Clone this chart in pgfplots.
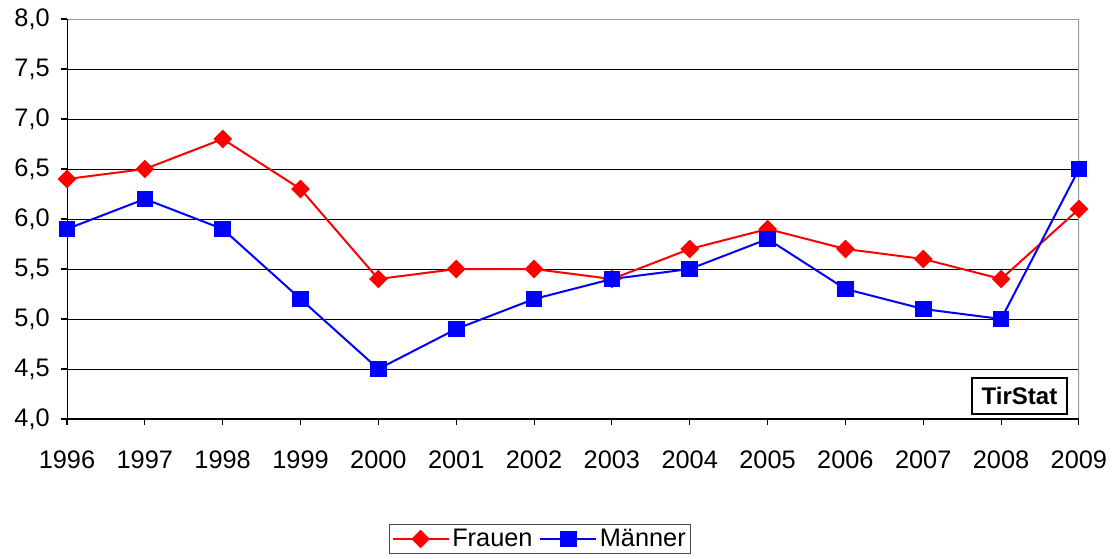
\documentclass[border=0pt]{standalone}
\usepackage{fontspec}
\setmainfont{Liberation Sans}
\usepackage{pgfplots}
\pgfplotsset{compat=1.18}
\begin{document}
\begin{tikzpicture}
\useasboundingbox (0,0) rectangle (836.25pt,418.5pt);
\begin{axis}[
  at={(50.25pt,104.25pt)}, anchor=south west,
  scale only axis, width=759pt, height=300pt,
  xmin=1996, xmax=2009, ymin=4, ymax=8,
  xtick={1996,...,2009},
  ytick={4,4.5,...,8},
  ymajorgrids, grid style={black, line width=0.6pt},
  axis line style={draw=none},
  tick align=outside, major tick length=4.5pt,
  tick style={black, line width=0.8pt},
  xtick pos=bottom, ytick pos=left,
  /pgf/number format/assume math mode=true,
  xticklabel style={/pgf/number format/1000 sep={}, font=\fontsize{19}{23}\selectfont, yshift=-16pt},
  yticklabel style={/pgf/number format/.cd, use comma, fixed, fixed zerofill, precision=1, /tikz/.cd, font=\fontsize{19}{23}\selectfont, xshift=-5pt},
  legend style={at={(0.4674,-0.30)}, anchor=center, draw=black!70, line width=0.8pt, font=\fontsize{19}{23}\selectfont, legend columns=2, inner sep=1.5pt, /tikz/every even column/.append style={column sep=3pt}},
  legend cell align=left,
  legend image code/.code={\draw[#1] (0pt,0pt) -- (42pt,0pt); \draw[#1, only marks] plot coordinates {(21pt,0pt)};},
]
\draw[gray!80, line width=1.2pt] (rel axis cs:0,1) -- (rel axis cs:1,1) -- (rel axis cs:1,0);
\draw[black, line width=1.2pt] (rel axis cs:0,1) -- (rel axis cs:0,0) -- (rel axis cs:1,0);
\addplot[red, line width=1.5pt, mark=square*, mark options={rotate=45, solid}, mark size=4.2pt] coordinates {
(1996,6.4) (1997,6.5) (1998,6.8) (1999,6.3) (2000,5.4) (2001,5.5) (2002,5.5)
(2003,5.4) (2004,5.7) (2005,5.9) (2006,5.7) (2007,5.6) (2008,5.4) (2009,6.1)};
\addlegendentry{Frauen}
\addplot[blue, line width=1.5pt, mark=square*, mark size=5.5pt] coordinates {
(1996,5.9) (1997,6.2) (1998,5.9) (1999,5.2) (2000,4.5) (2001,4.9) (2002,5.2)
(2003,5.4) (2004,5.5) (2005,5.8) (2006,5.3) (2007,5.1) (2008,5.0) (2009,6.5)};
\addlegendentry{Männer}
\node[draw=black, line width=1.3pt, fill=white, font=\fontsize{18}{22}\selectfont\bfseries, inner sep=4pt, minimum width=71pt, minimum height=27pt] at (axis description cs:0.9412,0.0575) {TirStat};
\end{axis}
\end{tikzpicture}
\end{document}
